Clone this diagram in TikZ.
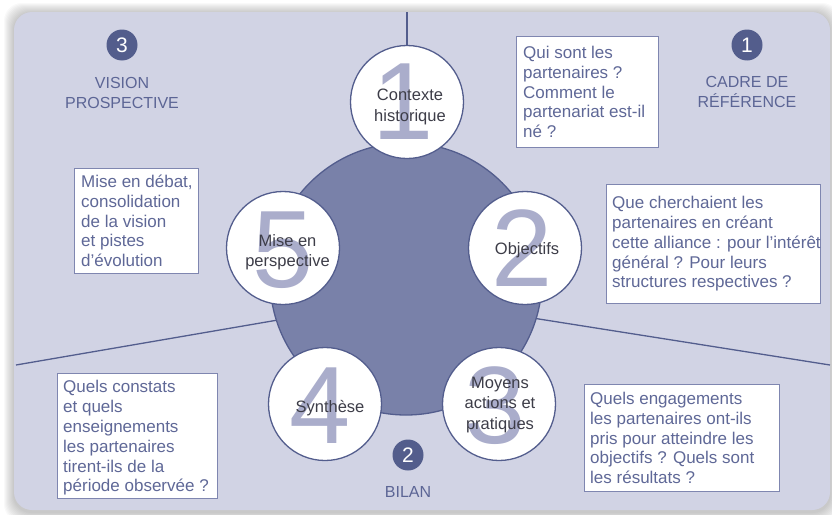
\documentclass[tikz,border=0pt]{standalone}
\usepackage{fontspec}
\setmainfont{Liberation Sans}
\definecolor{panel}{HTML}{D1D3E4}
\definecolor{bigc}{HTML}{7981A9}
\definecolor{edge}{HTML}{535D8D}
\definecolor{numc}{HTML}{AAADCB}
\definecolor{badgec}{HTML}{535D8C}
\definecolor{lblc}{HTML}{5C6595}
\definecolor{boxtxt}{HTML}{5F6897}
\definecolor{boxedge}{HTML}{7F86B0}
\definecolor{ctxt}{HTML}{3D3D48}
\begin{document}
\begin{tikzpicture}[x=1pt,y=-1pt,
  circ/.style={circle, draw=edge, line width=1.3pt, fill=white, minimum size=113pt, inner sep=0pt},
  numeral/.style={text=numc, font=\fontsize{110}{110}\selectfont, inner sep=0pt},
  ctext/.style={text=ctxt, font=\fontsize{16.5}{20.2}\selectfont, align=center, inner sep=0pt},
  badge/.style={circle, fill=badgec, text=white, minimum size=31pt, inner sep=0pt, font=\fontsize{21}{21}\selectfont},
  lbl/.style={text=lblc, font=\fontsize{16}{20}\selectfont, align=center, inner sep=0pt},
  qbox/.style={draw=boxedge, line width=0.9pt, fill=white, inner sep=0pt, anchor=north west},
  qtext/.style={text=boxtxt, font=\fontsize{17}{19.8}\selectfont, align=left, inner sep=0pt, anchor=west},
  ray/.style={draw=edge, line width=1.3pt}
]
\useasboundingbox (0,0) rectangle (832,514);
% shadow
\foreach \i in {1,...,10}
  \fill[black, opacity=0.025, rounded corners=18pt] (14-\i,12-\i+1) rectangle (830+\i,510+\i+2);
% panel
\fill[panel, rounded corners=18pt] (14,12) rectangle (830,510);
% rays
\coordinate (hub) at (406,298);
\coordinate (topend) at (407,12);
\coordinate (leftend) at (16,365);
\coordinate (rightend) at (830,365);
\draw[ray] (leftend) -- (hub);
\draw[ray] (rightend) -- (hub);
% central disc
\node[circle, fill=bigc, draw=edge, line width=1.3pt, minimum size=272pt, inner sep=0pt] (disc) at (406,279) {};
% small circles
\node[circ] (c1) at (407,102) {};
\node[circ] (c2) at (525,248) {};
\node[circ] (c3) at (499,404) {};
\node[circ] (c4) at (325,404) {};
\node[circ] (c5) at (283,248) {};
\draw[ray] (topend) -- (c1.north);
% numerals
\node[numeral] (n1) at (403,102) {1};
\node[numeral] (n2) at (522,248) {2};
\node[numeral] (n3) at (495,406) {3};
\node[numeral] (n4) at (320,406) {4};
\node[numeral] (n5) at (283,250) {5};
% circle texts
\node[ctext] (t1) at (410,107) {Contexte\\historique};
\node[ctext] (t2) at (527,250) {Objectifs};
\node[ctext] (t3) at (500,405) {Moyens\\actions et\\pratiques};
\node[ctext] (t4) at (330,408) {Synthèse};
\node[ctext] (t5) at (287.5,252) {Mise en\\perspective};
% badges and labels
\node[badge] (b3) at (122,45) {3};
\node[badge] (b1) at (747,45) {1};
\node[badge] (b2) at (408,455) {2};
\node[lbl] (l3) at (122,93) {VISION\\PROSPECTIVE};
\node[lbl] (l1) at (747,92) {CADRE DE\\RÉFÉRENCE};
\node[lbl] (l2) at (408,492) {BILAN};
% question boxes
\node[qbox, minimum width=142pt, minimum height=111pt] (q1) at (516,36) {};
\node[qtext] (qt1) at ([xshift=7pt]q1.west) {Qui sont les\\partenaires ?\\Comment le\\partenariat est-il\\né ?};
\node[qbox, minimum width=214pt, minimum height=119pt] (q2) at (606,184) {};
\node[qtext] (qt2) at ([xshift=6pt]q2.west) {Que cherchaient les\\partenaires en créant\\cette alliance : pour l’intérêt\\général ? Pour leurs\\structures respectives ?};
\node[qbox, minimum width=195pt, minimum height=107pt] (q3) at (584,384) {};
\node[qtext] (qt3) at ([xshift=6pt]q3.west) {Quels engagements\\les partenaires ont-ils\\pris pour atteindre les\\objectifs ? Quels sont\\les résultats ?};
\node[qbox, minimum width=160pt, minimum height=125pt] (q4) at (57,373) {};
\node[qtext] (qt4) at ([xshift=6pt,yshift=-2pt]q4.west) {Quels constats\\et quels\\enseignements\\les partenaires\\tirent-ils de la\\période observée ?};
\node[qbox, minimum width=124pt, minimum height=105pt] (q5) at (74,168) {};
\node[qtext] (qt5) at ([xshift=7pt]q5.west) {Mise en débat,\\consolidation\\de la vision\\et pistes\\d’évolution};
\end{tikzpicture}
\end{document}
